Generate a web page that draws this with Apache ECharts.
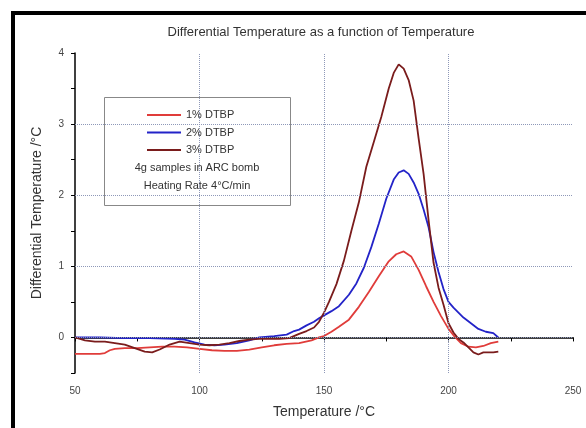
<!DOCTYPE html>
<html>
<head>
<meta charset="utf-8">
<script src="https://cdn.jsdelivr.net/npm/echarts@6/dist/echarts.min.js"></script>
<style>
html,body{margin:0;padding:0;background:#fff;}
#chart{width:586px;height:428px;}
</style>
</head>
<body>
<div id="chart"></div>
<script>
// ---- data ----
var seriesNames = ['1% DTBP', '2% DTBP', '3% DTBP'];
var noteLines = ['4g samples in ARC bomb', 'Heating Rate 4°C/min'];

var temp1 = [50,55,60,62,64,66,70,75,80,85,90,95,100,105,110,115,120,125,130,135,140,145,148,150,153,156,160,164,168,172,176,179,182,185,188,191,194,197,200,202,205,208,211,214,217,220];
var dt1   = [-0.23,-0.23,-0.23,-0.22,-0.18,-0.16,-0.15,-0.15,-0.14,-0.13,-0.13,-0.14,-0.16,-0.18,-0.19,-0.19,-0.17,-0.14,-0.11,-0.09,-0.08,-0.04,0.0,0.02,0.08,0.15,0.25,0.43,0.64,0.86,1.07,1.17,1.21,1.14,0.95,0.72,0.5,0.3,0.12,0.03,-0.08,-0.13,-0.14,-0.12,-0.08,-0.06];

var temp2 = [50,60,70,80,90,94,98,102,106,110,115,120,124,130,135,138,140,143,146,148,150,153,156,160,163,166,169,172,175,178,180,182,184,186,188,190,192,194,196,198,200,202,206,209,212,215,218,220];
var dt2   = [0,0,-0.01,-0.01,-0.02,-0.03,-0.07,-0.1,-0.11,-0.1,-0.08,-0.04,0.0,0.02,0.04,0.09,0.11,0.17,0.22,0.27,0.31,0.37,0.44,0.6,0.76,0.98,1.27,1.6,1.95,2.22,2.32,2.35,2.3,2.18,2.02,1.8,1.55,1.2,0.92,0.68,0.5,0.42,0.28,0.2,0.12,0.08,0.06,0.0];

var temp3 = [50,54,58,62,66,70,74,78,81,84,88,92,96,100,104,108,112,116,120,124,128,132,136,140,143,146,148,150,152,155,158,161,164,167,170,173,176,178,180,182,184,186,188,190,192,194,196,198,200,202,204,206,208,210,212,214,216,218,220];
var dt3   = [0,-0.04,-0.06,-0.06,-0.08,-0.1,-0.15,-0.2,-0.21,-0.17,-0.1,-0.06,-0.08,-0.1,-0.11,-0.1,-0.08,-0.05,-0.03,-0.02,-0.02,-0.02,-0.01,0.05,0.09,0.14,0.22,0.35,0.5,0.75,1.08,1.5,1.9,2.4,2.75,3.1,3.5,3.72,3.84,3.78,3.62,3.33,2.8,2.3,1.65,1.05,0.7,0.46,0.2,0.07,-0.02,-0.07,-0.14,-0.21,-0.24,-0.21,-0.21,-0.21,-0.2];

var gridX = [100, 150, 200];
var gridY = [0, 1, 2, 3];

// ---- build ----
function pairs(xs, ys){ return xs.map(function(x,i){ return [x, ys[i]]; }); }
var colors = ['#e03c3a', '#2323c8', '#7a1c1c'];
var font = 'Liberation Sans, Arial, sans-serif';

var gridLines = gridX.map(function(v){ return {xAxis: v}; })
  .concat(gridY.map(function(v){ return {yAxis: v}; }));

var chart = echarts.init(document.getElementById('chart'), null, {renderer:'canvas'});
chart.setOption({
  animation: false,
  backgroundColor: '#fff',
  title: {
    text: 'Differential Temperature as a function of Temperature',
    left: 316, top: 21, textAlign: 'center',
    textStyle: {fontFamily: font, fontSize: 13, fontWeight: 'normal', color: '#333'}
  },
  grid: {left: 75, right: 13, top: 53, bottom: 55},
  legend: {
    data: seriesNames.map(function(n){ return {name: n, icon: 'rect'}; }),
    orient: 'vertical', left: 147, top: 109,
    itemWidth: 34, itemHeight: 2, itemGap: 5.5, padding: 0,
    textStyle: {fontFamily: font, fontSize: 11, color: '#333', lineHeight: 12}
  },
  graphic: [
    {type: 'rect', shape: {x: 13, y: 13, width: 620, height: 520},
     style: {fill: 'none', stroke: '#000', lineWidth: 4}, silent: true},
    {type: 'rect', shape: {x: 104.5, y: 97.5, width: 186, height: 108},
     style: {fill: 'none', stroke: '#888', lineWidth: 1}, silent: true, z: 1},
    {type: 'text', x: 197, y: 168, style: {text: noteLines[0], fontFamily: font, fontSize: 11, fill: '#333', textAlign: 'center', textVerticalAlign: 'middle'}},
    {type: 'text', x: 197, y: 186, style: {text: noteLines[1], fontFamily: font, fontSize: 11, fill: '#333', textAlign: 'center', textVerticalAlign: 'middle'}}
  ],
  xAxis: {
    type: 'value', min: 50, max: 250, interval: 25,
    name: 'Temperature /°C', nameLocation: 'middle', nameGap: 32,
    nameTextStyle: {fontFamily: font, fontSize: 14, color: '#333'},
    axisLine: {lineStyle: {color: '#000', width: 1.5}},
    axisTick: {lineStyle: {color: '#000'}, length: 4},
    axisLabel: {fontFamily: font, fontSize: 10, color: '#444', margin: 13,
      formatter: function(v){ return v % 50 === 0 ? String(v) : ''; }},
    splitLine: {show: false}
  },
  yAxis: {
    type: 'value', min: -0.5, max: 4, interval: 0.5,
    name: 'Differential Temperature /°C', nameLocation: 'middle', nameGap: 31,
    nameTextStyle: {fontFamily: font, fontSize: 14, color: '#333'},
    axisLine: {show: true, lineStyle: {color: '#000', width: 1.5}},
    axisTick: {show: true, lineStyle: {color: '#000'}, length: 4},
    axisLabel: {fontFamily: font, fontSize: 10, color: '#444', margin: 11,
      formatter: function(v){ return Math.abs(v - Math.round(v)) < 1e-9 ? String(Math.round(v)) : ''; }},
    splitLine: {show: false}
  },
  series: [
    {name: 'grid', type: 'line', data: [], z: 1, silent: true,
     markLine: {silent: true, symbol: 'none', label: {show: false},
       lineStyle: {type: 'dotted', color: '#8e98b8', width: 1}, data: gridLines}},
    {name: seriesNames[0], type: 'line', data: pairs(temp1, dt1), symbol: 'none', z: 3,
     lineStyle: {color: colors[0], width: 1.8}, itemStyle: {color: colors[0]}},
    {name: seriesNames[1], type: 'line', data: pairs(temp2, dt2), symbol: 'none', z: 3,
     lineStyle: {color: colors[1], width: 1.8}, itemStyle: {color: colors[1]}},
    {name: seriesNames[2], type: 'line', data: pairs(temp3, dt3), symbol: 'none', z: 3,
     lineStyle: {color: colors[2], width: 1.8}, itemStyle: {color: colors[2]}}
  ]
});
</script>
</body>
</html>
